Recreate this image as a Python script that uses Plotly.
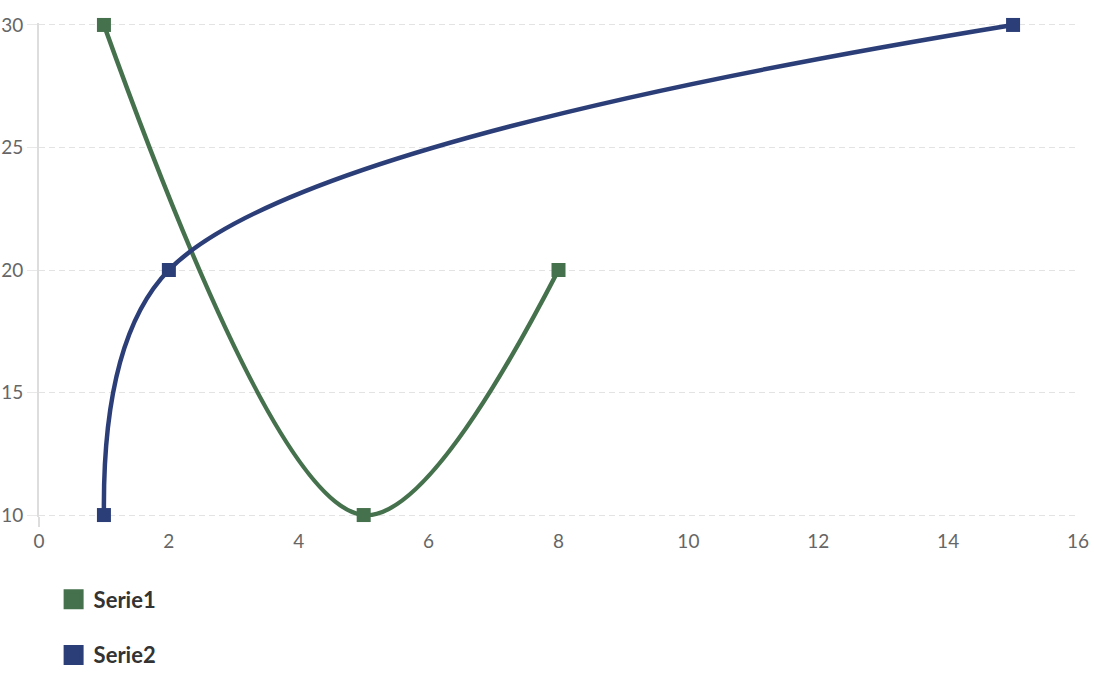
import plotly.graph_objects as go

series_names = ["Serie1", "Serie2"]
serie1_x = [1, 5, 8]
serie1_y = [30, 10, 20]
serie2_x = [1, 2, 15]
serie2_y = [10, 20, 30]
x_ticks = [0, 2, 4, 6, 8, 10, 12, 14, 16]
y_ticks = [10, 15, 20, 25, 30]

colors = ["#45714C", "#2C3E78"]
FONT = "Lato, 'Open Sans', sans-serif"

fig = go.Figure()
for name, xs, ys, c in [(series_names[0], serie1_x, serie1_y, colors[0]),
                        (series_names[1], serie2_x, serie2_y, colors[1])]:
    fig.add_trace(go.Scatter(
        x=xs, y=ys, mode="lines+markers", name=name, showlegend=False,
        line=dict(color=c, width=4.5, shape="spline", smoothing=1),
        marker=dict(symbol="square", size=14, color=c),
        cliponaxis=False, legendgroup=name,
    ))
for name, c in zip(series_names, colors):
    fig.add_trace(go.Scatter(
        x=[None], y=[None], mode="markers", name=name, legendgroup=name,
        marker=dict(symbol="square", size=16, color=c, line=dict(color=c, width=4)),
    ))

fig.update_layout(
    width=1094, height=675,
    margin=dict(l=39, r=16, t=23, b=158, autoexpand=False),
    paper_bgcolor="white", plot_bgcolor="white",
    font=dict(family=FONT, size=19, color="#666666"),
    legend=dict(
        xref="container", yref="container",
        x=0.049, y=0.143, xanchor="left", yanchor="top",
        orientation="v", traceorder="grouped", tracegroupgap=24,
        font=dict(family=FONT, size=22, color="#333333", weight="bold"),
    ),
    xaxis=dict(
        range=[0, 16], tickvals=x_ticks, showgrid=False, zeroline=False,
        showline=False, ticks="outside", ticklen=7, tickcolor="rgba(0,0,0,0)",
        tickfont=dict(color="#666666", size=19), automargin=False,
    ),
    yaxis=dict(
        range=[9.92, 30.08], tickvals=y_ticks, showgrid=True, gridcolor="#e3e3e3",
        griddash="6px,4px", gridwidth=1, zeroline=False,
        showline=True, linecolor="#dddddd", linewidth=2,
        ticks="outside", ticklen=10, tickcolor="#e8e8e8",
        tickfont=dict(color="#666666", size=19), automargin=False,
    ),
)
fig.add_shape(type="line", xref="paper", yref="paper", x0=0, x1=0, y0=0, y1=-0.02,
              line=dict(color="#dddddd", width=2))

# remove the browser's default 8px body margin so the figure sits at the page origin
fig.write_html("out.html", config={"displayModeBar": False},
               post_script="document.body.style.margin='0';")
